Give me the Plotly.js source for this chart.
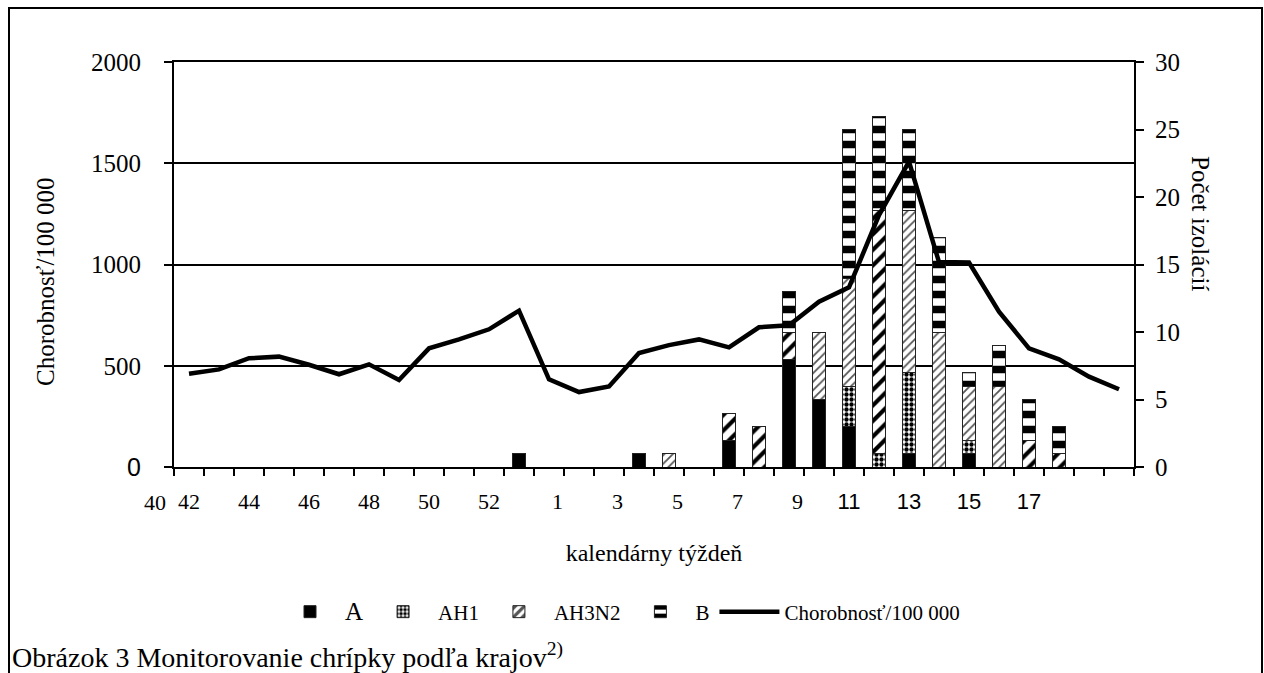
<!DOCTYPE html>
<html><head><meta charset="utf-8">
<script src="https://cdn.plot.ly/plotly-3.0.1.min.js"></script>
<style>html,body{margin:0;padding:0;background:#fff}#chart{width:1264px;height:673px}</style>
</head><body><div id="chart"></div>
<script>
// calendar weeks (season 2004/2005)
const weeks = [42,43,44,45,46,47,48,49,50,51,52,53,1,2,3,4,5,6,7,8,9,10,11,12,13,14,15,16,17,18,19,20];
// morbidity per 100 000 (left axis)
const morbidity = [460,482,537,545,505,458,507,430,586,630,680,772,433,370,398,563,602,630,591,690,700,816,887,1244,1508,1012,1010,767,586,532,446,384];
// number of isolates (right axis)
const isoA     = [null,null,null,null,null,null,null,null,null,null,null,1,null,null,null,1,null,null,2,null,8,5,3,null,1,null,1,null,null,null,null,null];
const isoAH1   = [null,null,null,null,null,null,null,null,null,null,null,null,null,null,null,null,null,null,null,null,null,null,3,1,6,null,1,null,null,null,null,null];
const isoAH3N2 = [null,null,null,null,null,null,null,null,null,null,null,null,null,null,null,null,1,null,2,3,2,5,8,18,12,10,4,6,2,1,null,null];
const isoB     = [null,null,null,null,null,null,null,null,null,null,null,null,null,null,null,null,null,null,null,null,3,null,11,7,6,7,1,3,3,2,null,null];
// tick labels shown on the week axis
const labelWeeks = [42,44,46,48,50,52,1,3,5,7,9,11,13,15,17];

const SERIF = '"Liberation Serif","Times New Roman",serif';

const xs = weeks.map((w, i) => i);
// styling: which AH3N2 bars render with the coarse hatch
const coarseWeeks = [7, 8, 9, 12, 17, 18];
const hatchSize = weeks.map(w => coarseWeeks.includes(w) ? 11 : 6);
const hatchColor = weeks.map(w => coarseWeeks.includes(w) ? '#000' : '#555');
const hatchSolid = weeks.map(w => coarseWeeks.includes(w) ? 0.38 : 0.3);

// label placement (styling): small shift for weeks 1-9 as in the original
const tickvals = labelWeeks.map(w => weeks.indexOf(w) + ((w >= 1 && w <= 9) ? 0.28 : 0));
const sansSpan = t => '<span style="font-family:' + "'Liberation Sans'" + '">' + t + '</span>';
const ticktext = labelWeeks.map(w => (w >= 11 && w <= 20) ? sansSpan(w) : String(w));
const boundaries = weeks.map((w, i) => i - 0.5).concat([weeks.length - 0.5]);

const barLine = {color: '#222', width: 1};
const traces = [
  {type: 'bar', name: '<span style="font-size:25px">A</span>', x: xs, y: isoA, yaxis: 'y',
   marker: {color: '#000', line: barLine}},
  {type: 'bar', name: 'AH1', x: xs, y: isoAH1, yaxis: 'y',
   marker: {color: '#fff', line: barLine, pattern: {shape: '.', fgcolor: '#000', bgcolor: '#fff', size: 5, solidity: 0.6, fillmode: 'replace'}}},
  {type: 'bar', name: 'AH3N2', x: xs, y: isoAH3N2, yaxis: 'y',
   marker: {color: '#fff', line: barLine, pattern: {shape: '/', fgcolor: hatchColor, bgcolor: '#fff', size: hatchSize, solidity: hatchSolid, fillmode: 'replace'}}},
  {type: 'bar', name: 'B', x: xs, y: isoB, yaxis: 'y',
   marker: {color: '#fff', line: barLine, pattern: {shape: '-', fgcolor: '#000', bgcolor: '#fff', size: 15, solidity: 0.5, fillmode: 'replace'}}},
  {type: 'scatter', mode: 'lines', name: 'Chorobnosť/100 000', x: xs, y: morbidity, yaxis: 'y2',
   line: {color: '#000', width: 4.5}}
];

const px2x = p => (p - 174) / 960;
const px2y = p => (467 - p) / 405;

const layout = {
  width: 1264, height: 673,
  margin: {l: 174, r: 130, t: 62, b: 206},
  paper_bgcolor: '#fff', plot_bgcolor: '#fff',
  barmode: 'stack', bargap: 0.56,
  font: {family: SERIF, size: 22, color: '#000'},
  xaxis: {
    range: [-0.5, 31.5], showgrid: false, zeroline: false,
    showline: true, linecolor: '#000', linewidth: 2, mirror: true,
    tickmode: 'array', tickvals: tickvals, ticktext: ticktext, ticks: '',
    ticklabelstandoff: 14,
    tickfont: {family: SERIF, size: 22, color: '#000'},
    minor: {tickmode: 'array', tickvals: boundaries, ticks: 'outside', ticklen: 7, tickwidth: 2, tickcolor: '#000', showgrid: false},
    title: {text: 'kalendárny týždeň', font: {family: SERIF, size: 24, color: '#000'}, standoff: 31}
  },
  yaxis: {
    side: 'right', range: [0, 30], tickmode: 'array', tickvals: [0, 5, 10, 15, 20, 25, 30],
    showgrid: false, zeroline: false, showline: true, linecolor: '#000', linewidth: 2,
    ticks: 'outside', ticklen: 8, tickwidth: 2, tickcolor: '#000', ticklabelstandoff: 6,
    tickfont: {family: SERIF, size: 25, color: '#000'}
  },
  yaxis2: {
    overlaying: 'y', side: 'left', range: [0, 2000],
    tickmode: 'array', tickvals: [0, 500, 1000, 1500, 2000],
    ticktext: [sansSpan('0'), '500', '1000', '1500', '2000'],
    showgrid: true, gridcolor: '#000', gridwidth: 1.5, zeroline: false,
    showline: true, linecolor: '#000', linewidth: 2,
    ticks: 'outside', ticklen: 8, tickwidth: 2, tickcolor: '#000', ticklabelstandoff: 18,
    tickfont: {family: SERIF, size: 25, color: '#000'}
  },
  showlegend: true,
  legend: {orientation: 'h', x: px2x(620), xanchor: 'center', y: px2y(612), yanchor: 'middle',
           traceorder: 'normal', font: {family: SERIF, size: 21, color: '#000'}, itemwidth: 60, bgcolor: 'rgba(0,0,0,0)'},
  annotations: [
    {xref: 'paper', yref: 'paper', x: px2x(155), y: px2y(503), text: '40', showarrow: false,
     font: {family: SERIF, size: 22, color: '#000'}, xanchor: 'center', yanchor: 'middle'},
    {xref: 'paper', yref: 'paper', x: px2x(45), y: px2y(282), text: 'Chorobnosť/100 000', showarrow: false,
     textangle: -90, font: {family: SERIF, size: 25, color: '#000'}, xanchor: 'center', yanchor: 'middle'},
    {xref: 'paper', yref: 'paper', x: px2x(1200), y: px2y(223), text: 'Počet izolácií', showarrow: false,
     textangle: 90, font: {family: SERIF, size: 25, color: '#000'}, xanchor: 'center', yanchor: 'middle'},
    {xref: 'paper', yref: 'paper', x: px2x(10), y: px2y(655), text: 'Obrázok 3 Monitorovanie chrípky podľa krajov<sup>2)</sup>', showarrow: false,
     font: {family: SERIF, size: 28, color: '#000'}, xanchor: 'left', yanchor: 'middle'}
  ],
  shapes: [
    {type: 'rect', xref: 'paper', yref: 'paper', x0: px2x(9), x1: px2x(1262), y0: px2y(700), y1: px2y(8),
     line: {color: '#000', width: 2}, fillcolor: 'rgba(0,0,0,0)', layer: 'below'}
  ]
};

Plotly.newPlot('chart', traces, layout, {displayModeBar: false, responsive: false});
</script>
</body></html>
